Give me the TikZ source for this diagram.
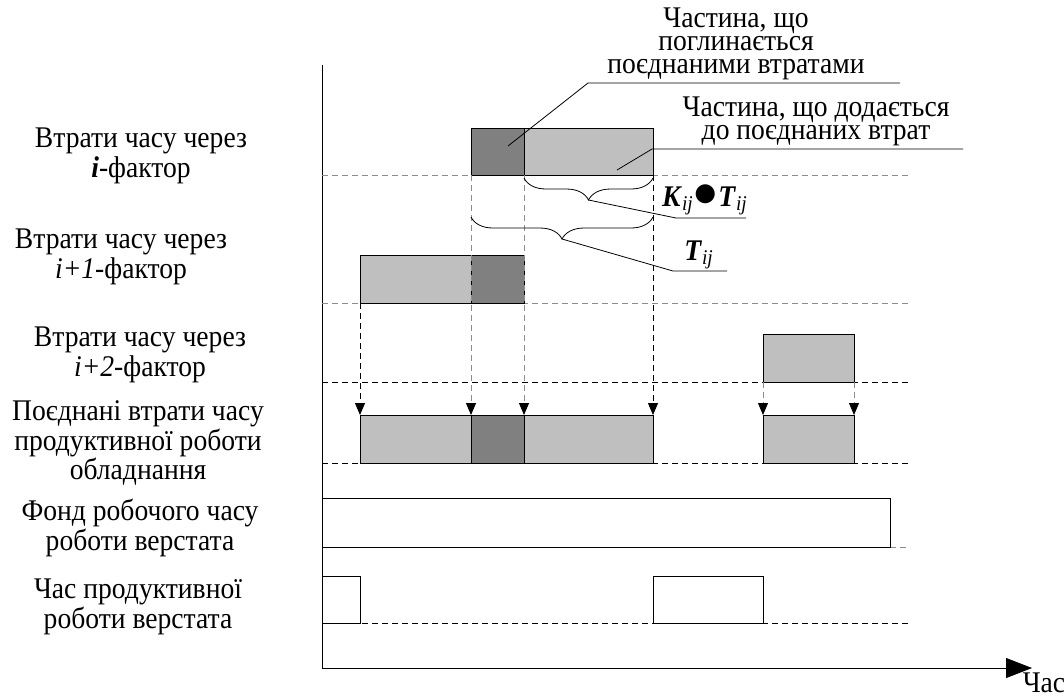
\documentclass[tikz,border=0pt]{standalone}
\usepackage{fontspec}
\setmainfont{Liberation Serif}[FakeStretch=0.92]
\usetikzlibrary{arrows.meta,decorations.pathreplacing}
\tikzset{
  lite/.style={draw=black,fill=black!25},
  dark/.style={draw=black,fill=black!50},
  open/.style={draw=black,fill=white},
  gridg/.style={dash pattern=on 3pt off 2pt,black!45},
  gridk/.style={dash pattern=on 3pt off 2pt,black},
  projg/.style={dash pattern=on 3pt off 2pt,black!45,-{Triangle[length=6pt,width=5pt,color=black]}},
  projk/.style={dash pattern=on 3pt off 2pt,black,-{Triangle[length=6pt,width=5pt]}},
  lbl/.style={align=center,inner sep=0pt,font=\fontsize{15}{11.6}\selectfont},
  brc/.style={decorate,decoration={brace,mirror,amplitude=11pt}},
}
\begin{document}
\begin{tikzpicture}[x=0.5pt,y=-0.5pt]
\useasboundingbox (0,0) rectangle (1064,698);
% axes
\draw[-{Triangle[length=13pt,width=10pt]}] (322,65) -- (322,668) -- (1032,668);
\node[lbl,anchor=north] (tlabel) at (1044,672) {Час};
% grid lines
\draw[gridg] (322,175) -- (910,175);
\draw[gridg] (322,303) -- (910,303);
\draw[gridk] (322,382) -- (910,382);
\draw[gridk] (322,463) -- (910,463);
\draw[gridg] (890,547) -- (910,547);
\draw[gridk] (322,623) -- (910,623);
% row labels
\node[lbl] (r1) at (141,156) {Втрати часу через\\\textbf{\textit{i}}-фактор};
\node[lbl] (r2) at (121,257) {Втрати часу через\\\textit{i+1}-фактор};
\node[lbl] (r3) at (140,355) {Втрати часу через\\\textit{i+2}-фактор};
\node[lbl] (r4) at (138,443) {Поєднані втрати часу\\продуктивної роботи\\обладнання};
\node[lbl] (r5) at (140,528) {Фонд робочого часу\\роботи верстата};
\node[lbl] (r6) at (138,607) {Час продуктивної\\роботи верстата};
% row 1
\draw[dark] (471,128) rectangle (524,175);
\draw[lite] (524,128) rectangle (653,175);
% row 2
\draw[lite] (360,255) rectangle (471,303);
\draw[dark] (471,255) rectangle (524,303);
% row 3
\draw[lite] (763,334) rectangle (854,382);
% row 4
\draw[lite] (360,415) rectangle (471,463);
\draw[dark] (471,415) rectangle (524,463);
\draw[lite] (524,415) rectangle (653,463);
\draw[lite] (763,415) rectangle (854,463);
% row 5 and 6
\draw[open] (322,498) rectangle (890,547);
\draw[open] (322,576) rectangle (360,623);
\draw[open] (653,576) rectangle (763,623);
% projections
\draw[projg] (471,175) -- (471,415);
\draw[projg] (524,175) -- (524,415);
\draw[projk] (653,175) -- (653,415);
\draw[projk] (360,303) -- (360,415);
\draw[projg] (763,382) -- (763,415);
\draw[projg] (854,382) -- (854,415);
% braces
\draw[brc] (524,178) -- (653,178) coordinate[midway,yshift=-11pt] (ktip);
\draw[brc] (471,217) -- (653,217) coordinate[midway,yshift=-11pt] (ttip);
\coordinate (kbend) at (676,218);
\coordinate (kend) at (746,218);
\coordinate (tbend) at (673,271);
\coordinate (tend) at (727,271);
\draw (ktip) -- (kbend) -- (kend);
\draw (ttip) -- (tbend) -- (tend);
\node[inner sep=0pt,anchor=base,font=\fontsize{15}{15}\selectfont] (kt) at (705,206)
  {\textbf{\textit{K}}\textsubscript{\textit{ij}}\scalebox{1.7}{$\bullet$}\textbf{\textit{T}}\textsubscript{\textit{ij}}};
\node[inner sep=0pt,anchor=base,font=\fontsize{15}{15}\selectfont] (tt) at (699,260)
  {\textbf{\textit{T}}\textsubscript{\textit{ij}}};
% callouts
\node[lbl] (c1) at (736,44) {Частина, що\\поглинається\\поєднаними втратами};
\coordinate (c1a) at (588,83);
\coordinate (c1b) at (900,83);
\coordinate (c1p) at (508,146);
\draw (c1p) -- (c1a) -- (c1b);
\node[lbl] (c2) at (816,121) {Частина, що додається\\до поєднаних втрат};
\coordinate (c2a) at (652,149);
\coordinate (c2b) at (963,149);
\coordinate (c2p) at (617,170);
\draw (c2p) -- (c2a) -- (c2b);
\end{tikzpicture}
\end{document}
